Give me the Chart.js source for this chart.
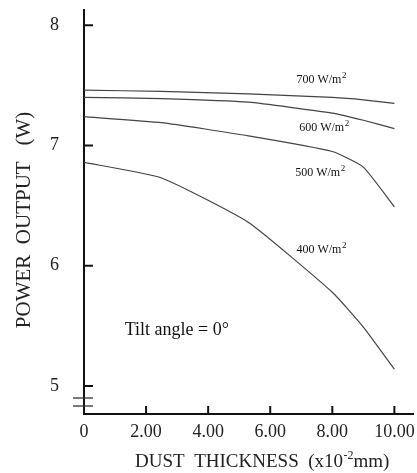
<!DOCTYPE html>
<html>
<head>
<meta charset="utf-8">
<script src="https://cdn.jsdelivr.net/npm/chart.js@4"></script>
<style>
  html, body { margin: 0; padding: 0; background: #fff; }
  #wrap { width: 417px; height: 473px; }
</style>
</head>
<body>
<div id="wrap"><canvas id="powerChart" width="417" height="473"></canvas></div>
<script>
// dust thickness (x10^-2 mm) where the curves bend
var thickness = [0, 2.5, 5.3, 8.0, 9.0, 10.0];
// power output (W) per irradiance
var p700 = [7.46, 7.45, 7.43, 7.40, 7.38, 7.35];
var p600 = [7.40, 7.39, 7.36, 7.27, 7.21, 7.14];
var p500 = [7.24, 7.19, 7.08, 6.95, 6.82, 6.49];
var p400 = [6.86, 6.73, 6.36, 5.78, 5.49, 5.14];
var seriesNames = ['700 W/m²', '600 W/m²', '500 W/m²', '400 W/m²'];
var xTicks = [0, 2, 4, 6, 8, 10];
var yTicks = [5, 6, 7, 8];
// where each curve label sits (data units)
var labelX = [7.64, 7.73, 7.60, 7.64];
var labelY = [7.55, 7.15, 6.77, 6.13];

var serif = "'Liberation Serif', 'DejaVu Serif', serif";

function pts(vals) {
    return thickness.map(function (t, i) { return { x: t, y: vals[i] }; });
}

function noPad(s) {
    s.paddingTop = 0;
    s.paddingBottom = 0;
    s.paddingLeft = 0;
    s.paddingRight = 0;
}

// text with a small raised part: [normal, sup, normal]
function supText(ctx, parts, cx, cy, size, supSize) {
    ctx.font = size + 'px ' + serif;
    var w0 = ctx.measureText(parts[0]).width;
    var w2 = ctx.measureText(parts[2]).width;
    ctx.font = supSize + 'px ' + serif;
    var w1 = ctx.measureText(parts[1]).width;
    var x = cx - (w0 + w1 + w2) / 2;
    ctx.textAlign = 'left';
    ctx.font = size + 'px ' + serif;
    ctx.fillText(parts[0], x, cy);
    ctx.font = supSize + 'px ' + serif;
    ctx.fillText(parts[1], x + w0 + 0.5, cy - size * 0.35);
    ctx.font = size + 'px ' + serif;
    ctx.fillText(parts[2], x + w0 + w1 + 0.5, cy);
}

// draws inward tick marks, the axis break, axis titles and text notes
var decorations = {
    id: 'decorations',
    afterDraw: function (chart) {
        var ctx = chart.ctx;
        var xs = chart.scales.x, ys = chart.scales.y;
        var x0 = xs.getPixelForValue(0);
        var yb = ys.bottom;
        ctx.save();
        ctx.strokeStyle = '#111';
        ctx.lineWidth = 2;
        yTicks.forEach(function (v) {
            var py = ys.getPixelForValue(v);
            ctx.beginPath();
            ctx.moveTo(x0, py);
            ctx.lineTo(x0 + 9, py);
            ctx.stroke();
        });
        xTicks.forEach(function (v) {
            if (v === 0) return;
            var px = xs.getPixelForValue(v);
            ctx.beginPath();
            ctx.moveTo(px, yb);
            ctx.lineTo(px, yb - 8);
            ctx.stroke();
        });
        // axis break
        ctx.lineWidth = 1.3;
        ctx.strokeStyle = '#333';
        [yb - 16, yb - 8].forEach(function (py) {
            ctx.beginPath();
            ctx.moveTo(x0 - 11, py);
            ctx.lineTo(x0 + 9, py);
            ctx.stroke();
        });
        // curve labels
        ctx.fillStyle = '#111';
        ctx.textBaseline = 'middle';
        seriesNames.forEach(function (name, i) {
            var px = xs.getPixelForValue(labelX[i]);
            var py = ys.getPixelForValue(labelY[i]);
            supText(ctx, [name.replace('²', ''), '2', ''], px, py, 12, 9);
        });
        ctx.font = '18px ' + serif;
        ctx.textAlign = 'left';
        ctx.fillText('Tilt angle = 0°', xs.getPixelForValue(1.31), ys.getPixelForValue(5.46));
        // axis titles
        ctx.fillStyle = '#222';
        supText(ctx, ['DUST  THICKNESS  (x10', '-2', 'mm)'], 262, 462, 19, 12);
        ctx.translate(24, 220);
        ctx.rotate(-Math.PI / 2);
        ctx.font = '21px ' + serif;
        ctx.textAlign = 'center';
        ctx.fillText('POWER  OUTPUT   (W)', 0, 0);
        ctx.restore();
    }
};

var ctx = document.getElementById('powerChart').getContext('2d');
var powerChart = new Chart(ctx, {
    type: 'line',
    data: {
        datasets: [p700, p600, p500, p400].map(function (vals, i) {
            return {
                label: seriesNames[i],
                data: pts(vals),
                borderColor: '#444',
                borderWidth: 1.2,
                pointRadius: 0,
                tension: 0.15,
                fill: false
            };
        })
    },
    options: {
        responsive: false,
        animation: false,
        layout: { padding: { left: 0, right: 4, top: 10, bottom: 0 } },
        plugins: {
            legend: { display: false },
            tooltip: { enabled: false }
        },
        scales: {
            x: {
                type: 'linear',
                min: 0,
                max: 10.6,
                afterFit: function (s) { s.height = 59; noPad(s); },
                afterBuildTicks: function (s) {
                    s.ticks = xTicks.map(function (v) { return { value: v }; });
                },
                grid: { display: false, drawTicks: false },
                border: { display: true, color: '#111', width: 2 },
                ticks: {
                    color: '#222',
                    padding: 7,
                    maxRotation: 0,
                    font: { family: serif, size: 18 },
                    callback: function (v) { return v === 0 ? '0' : v.toFixed(2); }
                }
            },
            y: {
                type: 'linear',
                min: 4.767,
                max: 8.127,
                afterFit: function (s) { s.width = 84; noPad(s); },
                afterBuildTicks: function (s) {
                    s.ticks = yTicks.map(function (v) { return { value: v }; });
                },
                grid: { display: false, drawTicks: false },
                border: { display: true, color: '#111', width: 2 },
                ticks: {
                    color: '#222',
                    padding: 25,
                    font: { family: serif, size: 18 }
                }
            }
        }
    },
    plugins: [decorations]
});
</script>
</body>
</html>
